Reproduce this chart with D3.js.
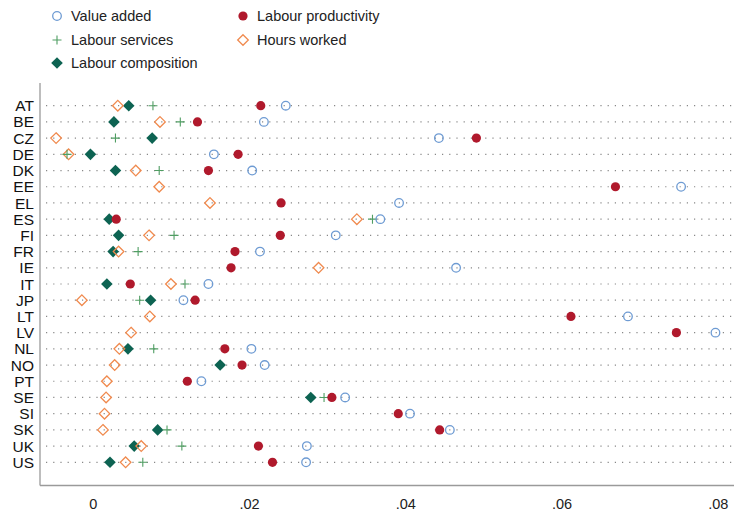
<!DOCTYPE html>
<html><head><meta charset="utf-8">
<script src="https://cdn.jsdelivr.net/npm/d3@7"></script>
<style>body{margin:0;background:#fff;font-family:"Liberation Sans",Arial,sans-serif}</style>
</head><body><svg id="c" width="734" height="515"></svg>
<script>
const countries = ["AT","BE","CZ","DE","DK","EE","EL","ES","FI","FR","IE","IT","JP","LT","LV","NL","NO","PT","SE","SI","SK","UK","US"];
const valueAdded       = [0.0247,0.0219,0.0443,0.0155,0.0204,0.0753,0.0392,0.0368,0.0311,0.0214,0.0465,0.0148,0.0116,0.0685,0.0797,0.0203,0.0220,0.0139,0.0323,0.0406,0.0457,0.0274,0.0273];
const labourProductivity=[0.0215,0.0134,0.0491,0.0186,0.0148,0.0669,0.0241,0.0030,0.0240,0.0182,0.0177,0.0048,0.0131,0.0612,0.0747,0.0169,0.0191,0.0121,0.0306,0.0391,0.0444,0.0212,0.0230];
const labourServices   = [0.0077,0.0112,0.0029,-0.0033,0.0085,null,null,0.0358,0.0104,0.0058,null,0.0118,0.0060,null,null,0.0078,null,null,0.0296,null,0.0095,0.0114,0.0064];
const hoursWorked      = [0.0032,0.0086,-0.0047,-0.0031,0.0055,0.0085,0.0150,0.0338,0.0072,0.0033,0.0289,0.0100,-0.0014,0.0073,0.0049,0.0034,0.0028,0.0018,0.0017,0.0015,0.0013,0.0062,0.0042];
const labourComposition= [0.0046,0.0027,0.0076,-0.0003,0.0029,null,null,0.0021,0.0033,0.0026,null,0.0018,0.0074,null,null,0.0045,0.0163,null,0.0279,null,0.0083,0.0053,0.0022];
const xTicks = [0,0.02,0.04,0.06,0.08];
const legendLabels = ["Value added","Labour productivity","Labour services","Hours worked","Labour composition"];

const C = {va:"#6e9bd3", lp:"#b0192c", ls:"#4f9d62", h:"#f08a4e", lc:"#0d6352"};
const svg = d3.select("#c");
const x = d3.scaleLinear().domain([0,0.08]).range([92.8,717.8]);
const y = d3.scalePoint().domain(countries).range([105.7,462.3]);

// dotted guide lines
svg.append("g").selectAll("line").data(countries).join("line")
  .attr("x1",46).attr("x2",733).attr("y1",d=>y(d)).attr("y2",d=>y(d))
  .attr("stroke","#888").attr("stroke-width",1.2).attr("stroke-dasharray","1.2 6");

// axes lines
svg.append("line").attr("x1",40).attr("x2",40).attr("y1",83).attr("y2",485.5).attr("stroke","#9a9a9a").attr("stroke-width",1.3);
const xa = svg.append("g").attr("transform","translate(0,485.5)")
  .call(d3.axisBottom(x).tickValues(xTicks).tickSize(0).tickPadding(13)
    .tickFormat(d=> d===0 ? "0" : d3.format(".2f")(d).replace(/^0/,"")));
xa.select(".domain").remove();
xa.append("line").attr("x1",40).attr("x2",734).attr("stroke","#9a9a9a").attr("stroke-width",1.3);
xa.selectAll("text").attr("font-size",14.5).attr("fill","#222").attr("font-family","Liberation Sans, Arial, sans-serif");

// country labels
svg.append("g").selectAll("text").data(countries).join("text")
  .attr("x",34).attr("y",d=>y(d)).attr("dy","0.36em").attr("text-anchor","end")
  .attr("font-size",15.5).attr("fill","#111").text(d=>d);

const rows = (arr)=>countries.map((c,i)=>({c,v:arr[i]})).filter(d=>d.v!==null);
const diamond = (s)=>`M0,${-s}L${s},0L0,${s}L${-s},0Z`;

function drawLC(g,cx,cy){ g.append("path").attr("d",diamond(5.8)).attr("transform",`translate(${cx},${cy})`).attr("fill",C.lc); }
function drawH(g,cx,cy){ g.append("path").attr("d",diamond(5.3)).attr("transform",`translate(${cx},${cy})`).attr("fill","none").attr("stroke",C.h).attr("stroke-width",1.3); }
function drawLS(g,cx,cy){ g.append("path").attr("d","M-4.5,0H4.5M0,-4.5V4.5").attr("transform",`translate(${cx},${cy})`).attr("stroke",C.ls).attr("stroke-width",1.1); }
function drawLP(g,cx,cy){ g.append("circle").attr("cx",cx).attr("cy",cy).attr("r",4.6).attr("fill",C.lp); }
function drawVA(g,cx,cy){ g.append("circle").attr("cx",cx).attr("cy",cy).attr("r",4.3).attr("fill","none").attr("stroke",C.va).attr("stroke-width",1.3); }

const series = [
  [labourComposition, drawLC],
  [hoursWorked, drawH],
  [labourServices, drawLS],
  [labourProductivity, drawLP],
  [valueAdded, drawVA]
];
const mg = svg.append("g");
series.forEach(([arr,fn])=>{ rows(arr).forEach(d=>fn(mg,x(d.v),y(d.c))); });

// legend
const lg = svg.append("g").attr("font-size",14.5).attr("fill","#222");
const leg = [
  [legendLabels[0], drawVA, 57, 16],
  [legendLabels[1], drawLP, 243, 16],
  [legendLabels[2], drawLS, 57, 40],
  [legendLabels[3], drawH, 243, 40],
  [legendLabels[4], drawLC, 57, 63]
];
leg.forEach(([t,fn,lx,ly])=>{
  fn(lg,lx,ly);
  lg.append("text").attr("x",lx+14).attr("y",ly).attr("dy","0.36em").text(t);
});
</script></body></html>
